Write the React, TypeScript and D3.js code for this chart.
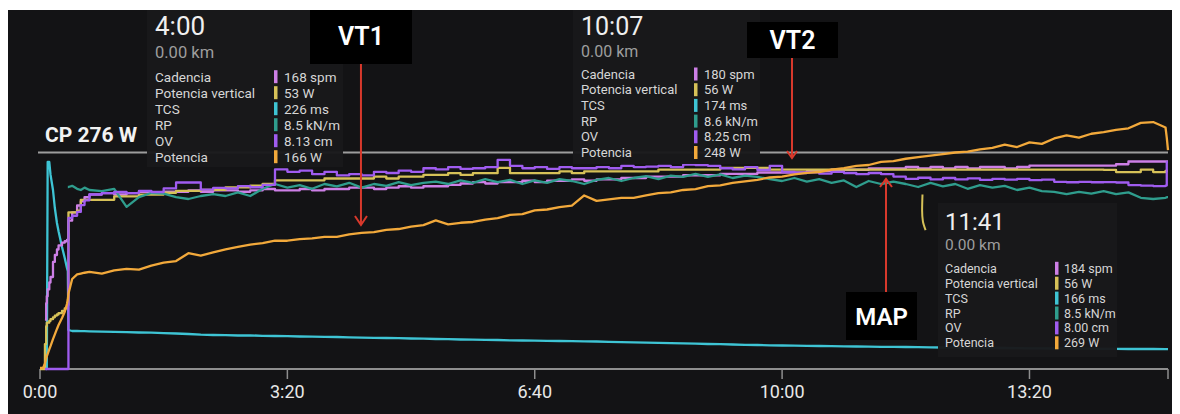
import React from 'react';
import * as d3 from 'd3';

// ---- time axis (seconds) ----
const times = [0, 2.5, 4, 5, 5.5, 6.2, 7.5, 8.5, 10.5, 12, 13.7, 15, 17.8, 20, 21.8, 22.5, 23, 26, 30, 33, 36,
  40, 50, 60, 70, 80, 90, 100, 110, 120, 130,
  140, 150, 160, 170, 180, 190, 200, 210, 220, 230,
  240, 250, 260, 270, 280, 290, 300, 310, 320, 330,
  340, 350, 360, 370, 380, 390, 400, 410, 420, 430,
  440, 450, 460, 470, 480, 490, 500, 510, 520, 530,
  540, 550, 560, 570, 580, 590, 600, 610, 620, 630,
  640, 650, 660, 670, 680, 690, 700, 710, 720, 730,
  740, 750, 760, 770, 780, 790, 800, 810, 820, 830,
  840, 850, 860, 870, 880, 890, 900, 910, 911, 912];

// Potencia (W)
const potencia = [0, 0, 6, 12, 15, 18, 24, 28, 37, 43, 50, 55, 64, 72, 82, 88, 95, 114, 120, 121, 122,
  123, 121, 125, 127, 126, 131, 135, 137, 147, 144,
  148, 152, 155, 158, 160, 163, 163, 165, 166, 168,
  168, 171, 173, 174, 177, 178, 181, 183, 189, 184,
  186, 187, 190, 192, 196, 197, 202, 203, 206, 208,
  221, 214, 216, 218, 218, 221, 224, 225, 228, 229,
  233, 234, 237, 239, 241, 244, 245, 248, 250, 251,
  254, 256, 259, 260, 264, 265, 268, 270, 272, 274,
  276, 277, 280, 282, 286, 283, 289, 287, 294, 298,
  295, 300, 302, 305, 307, 314, 315, 308, 295, 279];

// Cadencia (spm)
const cadencia = [null, null, 73, 85, 90, 95, 100, 104, 115, 120, 124, 127, 129, 130, 131, 131, 145, 151, 156, 159, 162,
  164, 165, 164, 165, 166, 165, 166, 166, 167, 166,
  167, 167, 166, 167, 168, 167, 167, 168, 167, 168,
  168, 169, 169, 168, 169, 170, 169, 170, 170, 171,
  172, 173, 172, 173, 173, 174, 173, 174, 174, 175,
  174, 175, 175, 176, 176, 177, 177, 177, 178, 178,
  178, 179, 179, 179, 180, 180, 180, 180, 181, 181,
  182, 182, 182, 183, 183, 183, 184, 183, 184, 183,
  184, 183, 184, 184, 183, 184, 185, 185, 185, 185,
  185, 185, 185, 186, 188, 188, 188, 188, 188, 188];

// Potencia vertical (W)
const potenciaVertical = [0, 0, 7, 12, 13, 13, 13.5, 14, 14.5, 15, 15.3, 15.7, 16.3, 17, 17.5, 18, 44, 44, 44.5, 47.5, 47.5,
  47.5, 47.5, 48.5, 48.5, 49, 49, 49.5, 50, 50, 50.3,
  50.3, 51, 51, 51.5, 52, 53, 53, 53, 53, 53.5,
  53.5, 53.5, 53.5, 54, 53.5, 54, 54, 54.5, 54.5, 55,
  54.5, 55, 55, 56.5, 55, 55, 55, 55, 55.5, 55,
  55.5, 55.5, 55.5, 55.5, 55.5, 55.5, 56, 56, 56, 56,
  56, 56.5, 56.5, 56.5, 56.5, 56, 56, 56, 56, 56,
  56, 56, 56, 56, 56, 56, 56, 56, 56, 56,
  56, 56, 56, 56, 56, 56, 56, 56, 56, 56,
  56, 56, 55.9, 55.3, 55.3, 56, 55.3, 55.6, 55.6, 55.6];

// TCS (ms)
const tcs = [null, null, null, 34, 34, 1276, 1276, 1200, 1108, 1000, 910, 860, 766, 700, 640, 620, 268, 262, 262, 261, 261,
  260, 258, 257, 255, 253, 252, 249, 247, 244, 240,
  238, 237, 235, 236, 233, 232, 231, 229, 228, 227,
  226, 224, 222, 221, 220, 219, 217, 216, 214, 213,
  211, 210, 209, 208, 206, 205, 204, 203, 202, 201,
  200, 199, 197, 195, 194, 192, 191, 189, 188, 186,
  184, 183, 181, 179, 178, 176, 175, 174, 173, 172,
  171, 170, 169, 168, 167, 167, 166, 165, 164, 163,
  163, 162, 161, 160, 160, 159, 158, 158, 157, 157,
  156, 156, 155, 155, 154, 154, 154, 153, 153, 153];

// RP (kN/m)
const rp = [null, null, null, null, null, null, null, null, null, null, null, null, null, null, null, 8.45, 8.45, 8.47, 8.42, 8.4, 8.44,
  8.4, 8.38, 8.42, 8.12, 8.28, 8.35, 8.34, 8.28, 8.25, 8.3,
  8.33, 8.3, 8.36, 8.3, 8.42, 8.5, 8.44, 8.48, 8.42, 8.5,
  8.46, 8.52, 8.44, 8.5, 8.47, 8.53, 8.48, 8.52, 8.54, 8.5,
  8.56, 8.52, 8.58, 8.53, 8.57, 8.5, 8.56, 8.52, 8.58, 8.55,
  8.5, 8.57, 8.6, 8.55, 8.6, 8.63, 8.58, 8.64, 8.62, 8.67,
  8.62, 8.66, 8.6, 8.64, 8.62, 8.58, 8.55, 8.6, 8.54, 8.58,
  8.52, 8.56, 8.45, 8.55, 8.5, 8.54, 8.5, 8.45, 8.52, 8.46,
  8.5, 8.42, 8.48, 8.44, 8.47, 8.4, 8.44, 8.38, 8.37, 8.33,
  8.37, 8.34, 8.38, 8.33, 8.36, 8.27, 8.25, 8.27, 8.28, 8.28];

// OV (cm)
const ov = [null, null, 0, 0, 0, 0, 0, 0, 0, 0, 0, 0, 0, 0, 0, 0, 6.36, 6.45, 6.61, 6.9, 7.1,
  7.35, 7.4, 7.45, 7.4, 7.5, 7.45, 7.6, 7.85, 7.85, 7.55,
  7.62, 7.6, 7.7, 7.65, 7.75, 8.4, 8.3, 8.35, 8.2, 8.3,
  8.15, 8.2, 8.15, 8.3, 8.25, 8.35, 8.3, 8.45, 8.4, 8.5,
  8.42, 8.45, 8.5, 8.8, 8.55, 8.45, 8.5, 8.42, 8.5, 8.45,
  8.45, 8.5, 8.45, 8.55, 8.5, 8.52, 8.55, 8.5, 8.6, 8.58,
  8.55, 8.45, 8.4, 8.5, 8.38, 8.55, 8.3, 8.25, 8.28, 8.22,
  8.3, 8.25, 8.2, 8.25, 8.2, 8.1, 8.0, 8.05, 7.98, 8.04,
  7.98, 8.02, 7.96, 8.0, 7.97, 8.0, 7.95, 7.97, 7.88, 7.86,
  7.88, 7.86, 7.87, 7.85, 7.74, 7.72, 7.7, 7.72, 8.71, 8.71];

// small stray potencia-vertical trace near the MAP tooltip
const strayTimes = [713.5, 713.2, 713.8, 716];
const strayPV = [49, 44.5, 41.5, 39];

// axis
const tickTimes = [0, 200, 400, 600, 800];
const tickLabels = ['0:00', '3:20', '6:40', '10:00', '13:20'];
const endTime = 912;

// CP
const cpValue = 276;
const cpLabel = 'CP 276 W';

// markers
const markerLabels = ['VT1', 'VT2', 'MAP'];
const markerTimes = [259.5, 608, 684];

// tooltips
const metricNames = ['Cadencia', 'Potencia vertical', 'TCS', 'RP', 'OV', 'Potencia'];
const tipTimes = ['4:00', '10:07', '11:41'];
const tipDistances = ['0.00 km', '0.00 km', '0.00 km'];
const tipValues = [
  ['168 spm', '53 W', '226 ms', '8.5 kN/m', '8.13 cm', '166 W'],
  ['180 spm', '56 W', '174 ms', '8.6 kN/m', '8.25 cm', '248 W'],
  ['184 spm', '56 W', '166 ms', '8.5 kN/m', '8.00 cm', '269 W'],
];

const COLORS = {
  cad: '#cd7fe6',
  pv: '#d6c158',
  tcs: '#3ec4d4',
  rp: '#2f9d8d',
  ov: '#a05cf0',
  pow: '#f2a93b',
};
const metricColors = [COLORS.cad, COLORS.pv, COLORS.tcs, COLORS.rp, COLORS.ov, COLORS.pow];

const tipLayout = [
  { x: 147, y: 10, w: 196, h: 157, tx: 155, timeY: 35, kmY: 58, row0: 76.7, step: 16, swX: 274, valX: 284, fs: 13.5, tfs: 26, kfs: 16.5 },
  { x: 573, y: 10, w: 187, h: 154, tx: 581, timeY: 35, kmY: 57, row0: 74, step: 15.7, swX: 694, valX: 704, fs: 13, tfs: 25, kfs: 16 },
  { x: 938, y: 203, w: 179, h: 154, tx: 945, timeY: 230, kmY: 250, row0: 268.3, step: 14.9, swX: 1055, valX: 1064, fs: 12.5, tfs: 24, kfs: 15.5 },
];

const markerLayout = [
  { bx: 310, by: 10, bw: 102, bh: 54, ty: 45, fs: 25, y1: 64, tip: 225, dir: 1, aw: 6, ah: 9 },
  { bx: 747, by: 22, bw: 91, bh: 36, ty: 49, fs: 25, y1: 58, tip: 158, dir: 1, aw: 5, ah: 7 },
  { bx: 846, by: 292, bw: 71, bh: 48, ty: 325, fs: 24, y1: 292, tip: 179, dir: -1, aw: 6, ah: 8 },
];

const FONT = 'Roboto, "Noto Sans", sans-serif';

export default function App() {
  const x = d3.scaleLinear().domain([0, endTime]).range([40, 1168]);
  const yPow = d3.scaleLinear().domain([0, 276]).range([368, 152.5]);
  const yCad = d3.scaleLinear().domain([168, 184]).range([189, 167]);
  const yPV = d3.scaleLinear().domain([0, 56]).range([369, 169.6]);
  const yTCS = d3.scaleLinear().domain([166, 226]).range([347, 337]);
  const yRP = d3.scaleLinear().domain([8.5, 8.6]).range([184, 178]);
  const yOV = d3.scaleLinear().domain([0, 8.25]).range([369, 173]);

  const mk = (vals: (number | null)[], y: d3.ScaleLinear<number, number>, curve: d3.CurveFactory, ts: number[] = times) =>
    d3.line<number | null>()
      .defined((d) => d != null)
      .x((_, i) => x(ts[i]))
      .y((d) => y(d as number))
      .curve(curve)(vals) || '';

  const series = [
    { d: mk(tcs, yTCS, d3.curveLinear), c: COLORS.tcs },
    { d: mk(cadencia, yCad, d3.curveStepAfter), c: COLORS.cad },
    { d: mk(potenciaVertical, yPV, d3.curveStepAfter), c: COLORS.pv },
    { d: mk(rp, yRP, d3.curveLinear), c: COLORS.rp },
    { d: mk(ov, yOV, d3.curveStepAfter), c: COLORS.ov },
    { d: mk(potencia, yPow, d3.curveLinear), c: COLORS.pow },
  ];
  const stray = mk(strayPV, yPV, d3.curveMonotoneY, strayTimes);
  const axisY = 369;
  const cpY = yPow(cpValue);

  return (
    <svg width={1164} height={406} style={{ display: 'block' }} fontFamily={FONT}>
      <g transform="translate(-8,-8)">
        <rect x={8} y={10} width={1164} height={404} fill="#131315" />

        {/* CP line */}
        <line x1={38} x2={x(endTime)} y1={cpY} y2={cpY} stroke="#9d9d9d" strokeWidth={2} />
        <text x={45} y={142} fill="#f2f2f2" fontSize={21} fontWeight={700}>{cpLabel}</text>

        {/* axis */}
        <line x1={x(0)} x2={x(endTime)} y1={axisY} y2={axisY} stroke="#8e8e8e" strokeWidth={2} />
        {[...tickTimes, endTime].map((t) => (
          <line key={t} x1={x(t)} x2={x(t)} y1={axisY} y2={axisY + 10} stroke="#8e8e8e" strokeWidth={1.5} />
        ))}
        {tickTimes.map((t, i) => (
          <text key={t} x={x(t)} y={398} textAnchor="middle" fill="#e8e8e8" fontSize={18}>{tickLabels[i]}</text>
        ))}

        {/* series */}
        {series.map((s, i) => (
          <path key={i} d={s.d} fill="none" stroke={s.c} strokeWidth={2.3} strokeLinejoin="round" />
        ))}
        <path d={stray} fill="none" stroke={COLORS.pv} strokeWidth={2} />

        {/* tooltips */}
        {tipTimes.map((tt, k) => {
          const L = tipLayout[k];
          return (
            <g key={tt}>
              <rect x={L.x} y={L.y} width={L.w} height={L.h} fill="#19191b" opacity={0.97} />
              <text x={L.tx} y={L.timeY} fill="#efefef" fontSize={L.tfs}>{tt}</text>
              <text x={L.tx} y={L.kmY} fill="#9e9e9e" fontSize={L.kfs}>{tipDistances[k]}</text>
              {metricNames.map((m, j) => {
                const cy = L.row0 + j * L.step;
                return (
                  <g key={m}>
                    <text x={L.tx} y={cy + L.fs * 0.36} fill="#d6d6d6" fontSize={L.fs}>{m}</text>
                    <rect x={L.swX} y={cy - 6.5} width={3.5} height={13} fill={metricColors[j]} />
                    <text x={L.valX} y={cy + L.fs * 0.36} fill="#d6d6d6" fontSize={L.fs}>{tipValues[k][j]}</text>
                  </g>
                );
              })}
            </g>
          );
        })}

        {/* markers (on top) */}
        {markerLabels.map((lab, i) => {
          const L = markerLayout[i];
          const mx = x(markerTimes[i]);
          const back = L.tip - L.dir * L.ah;
          return (
            <g key={lab}>
              <line x1={mx} x2={mx} y1={L.y1} y2={L.tip} stroke="#d8392c" strokeWidth={2} />
              <polyline points={`${mx - L.aw},${back} ${mx},${L.tip} ${mx + L.aw},${back}`} fill="none" stroke="#d8392c" strokeWidth={2} />
              <rect x={L.bx} y={L.by} width={L.bw} height={L.bh} fill="#000" />
              <text x={L.bx + L.bw / 2} y={L.ty} textAnchor="middle" fill="#fff" fontSize={L.fs} fontWeight={600}>{lab}</text>
            </g>
          );
        })}
      </g>
    </svg>
  );
}
